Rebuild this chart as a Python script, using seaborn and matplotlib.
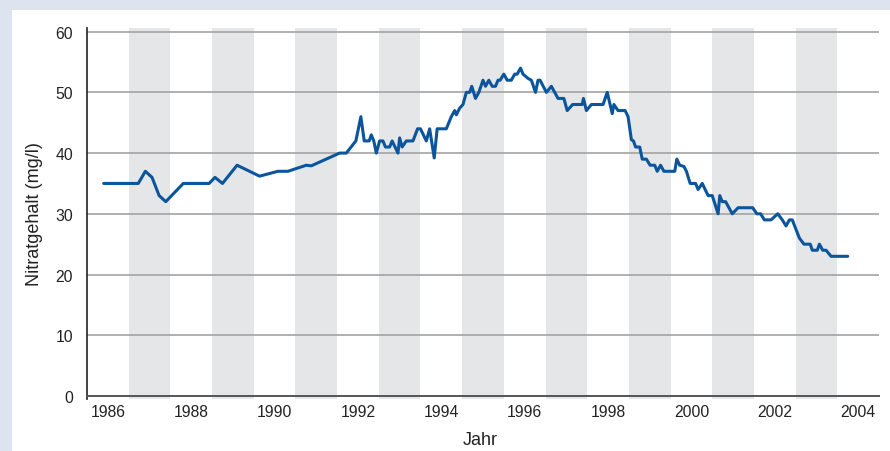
import matplotlib
matplotlib.use("Agg")
import matplotlib.pyplot as plt
from matplotlib.patches import Rectangle
import pandas as pd
import seaborn as sns

# values
years = [1985.9, 1986.73, 1986.9, 1987.06, 1987.23, 1987.39, 1987.81, 1988.43, 1988.57, 1988.75,
         1989.1, 1989.64, 1990.08, 1990.32, 1990.76, 1990.88, 1991.56, 1991.72, 1991.95, 1992.07,
         1992.15, 1992.27, 1992.32, 1992.38, 1992.44, 1992.52, 1992.6, 1992.66, 1992.76, 1992.82,
         1992.89, 1992.96, 1993.0, 1993.06, 1993.16, 1993.32, 1993.43, 1993.5, 1993.64, 1993.72,
         1993.83, 1993.9, 1994.12, 1994.24, 1994.32, 1994.36, 1994.44, 1994.52, 1994.6, 1994.68,
         1994.73, 1994.82, 1994.9, 1995.0, 1995.06, 1995.14, 1995.22, 1995.3, 1995.36, 1995.41,
         1995.5, 1995.58, 1995.68, 1995.76, 1995.82, 1995.9, 1995.96, 1996.08, 1996.16, 1996.26,
         1996.32, 1996.37, 1996.52, 1996.64, 1996.8, 1996.94, 1997.02, 1997.15, 1997.38, 1997.41,
         1997.48, 1997.6, 1997.88, 1997.98, 1998.1, 1998.14, 1998.24, 1998.41, 1998.48, 1998.56,
         1998.61, 1998.66, 1998.76, 1998.82, 1998.92, 1999.01, 1999.12, 1999.18, 1999.26, 1999.34,
         1999.6, 1999.65, 1999.72, 1999.82, 1999.88, 1999.97, 2000.1, 2000.16, 2000.26, 2000.4,
         2000.5, 2000.64, 2000.68, 2000.74, 2000.82, 2000.98, 2001.12, 2001.47, 2001.57, 2001.66,
         2001.75, 2001.91, 2002.07, 2002.18, 2002.27, 2002.35, 2002.42, 2002.59, 2002.7, 2002.85,
         2002.9, 2003.02, 2003.07, 2003.15, 2003.23, 2003.35, 2003.75]
nitrat = [35, 35, 37, 36, 33, 32, 35, 35, 36, 35,
          38, 36.2, 37, 37, 38, 37.9, 40, 40, 42, 46,
          42, 42, 43, 42, 40, 42, 42, 41, 41, 42,
          41, 40, 42.5, 41, 42, 42, 44, 44, 42, 44,
          39.2, 44, 44, 46, 47, 46.3, 47.4, 48, 50, 50,
          51, 49, 50, 52, 51, 52, 51, 51, 52, 52,
          53, 52, 52, 53, 53, 54, 53, 52.3, 52, 50,
          52, 52, 50, 51, 49, 49, 47, 48, 48, 49,
          47, 48, 48, 50, 46.5, 48, 47, 47, 46, 42.2,
          42, 41, 41, 39, 39, 38, 38, 37, 38, 37,
          37, 39, 38, 37.8, 37, 35, 35, 34, 35, 33,
          33, 30, 33, 32, 32, 30, 31, 31, 30, 30,
          29, 29, 30, 29, 28, 29, 29, 26, 25, 25,
          24, 24, 25, 24, 24, 23, 23]

band_starts = [1986.5, 1988.5, 1990.5, 1992.5, 1994.5, 1996.5, 1998.5, 2000.5, 2002.5]
x_ticks = [1986, 1988, 1990, 1992, 1994, 1996, 1998, 2000, 2002, 2004]
y_ticks = [0, 10, 20, 30, 40, 50, 60]

df = pd.DataFrame({"Jahr": years, "Nitrat": nitrat})

sns.set_style("white")
plt.rcParams["font.family"] = ["Liberation Sans", "DejaVu Sans"]
text_col = "#222222"

fig = plt.figure(figsize=(8.9, 4.52), dpi=100)
fig.patch.set_facecolor("#dde3ef")
fig.add_artist(Rectangle((12 / 890, 0), 1, 1 - 11 / 452, transform=fig.transFigure,
                         facecolor="white", edgecolor="none", zorder=0))

ax = fig.add_axes([87 / 890, 1 - 400 / 452, (879 - 87) / 890, (400 - 29) / 452])
ax.set_facecolor("none")

for s in band_starts:
    ax.axvspan(s, s + 1, ymin=0, ymax=1, color="#e5e6e8", lw=0, zorder=0)

for y in y_ticks[1:]:
    ax.axhline(y, color="#a3a3a3", lw=1.2, zorder=1)

sns.lineplot(data=df, x="Jahr", y="Nitrat", sort=False, estimator=None,
             color="#0b559c", lw=2.2, ax=ax, zorder=3)

ax.set_xlim(1985.5, 2004.5)
ax.set_ylim(-0.5, 60.6)
ax.set_xticks(x_ticks)
ax.set_yticks(y_ticks)

for side in ["top", "right"]:
    ax.spines[side].set_visible(False)
ax.spines["bottom"].set_position(("data", 0))
ax.spines["bottom"].set_color("#555555")
ax.spines["bottom"].set_linewidth(1.4)
ax.spines["left"].set_color("#222222")
ax.spines["left"].set_linewidth(1.2)

ax.tick_params(axis="x", length=0, pad=6, labelsize=11.3, labelcolor=text_col)
ax.tick_params(axis="y", length=5, width=1, color="#777777", direction="out", pad=5,
               labelsize=11.3, labelcolor=text_col)

ax.set_xlabel("Jahr", fontsize=13, color=text_col)
ax.set_ylabel("Nitratgehalt (mg/l)", fontsize=13, color=text_col)
ax.xaxis.set_label_coords(0.497, -0.085)
ax.yaxis.set_label_coords(-0.056, 0.5)

fig.savefig("out.png", dpi=100, facecolor=fig.get_facecolor())
